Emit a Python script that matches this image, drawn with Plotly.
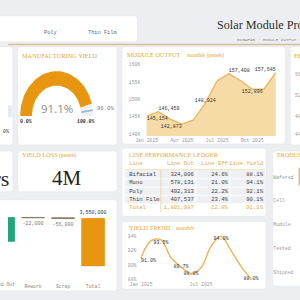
import numpy as np
import plotly.graph_objects as go

W = H = 300
def X(p): return p / W
def Y(p): return 1 - p / H

SERIF = "Liberation Serif"
MONO = "Liberation Mono"
SANS = "Open Sans"
BG = "#eceef1"
GOLD = "#e3a83a"
GOLD_L = "#ecc070"
DARK = "#2e2e2e"

# ---------------- data ----------------
tabs = ["Poly", "Thin Film"]
months = ["Jan 2025", "Feb 2025", "Mar 2025", "Apr 2025", "May 2025", "Jun 2025",
          "Jul 2025", "Aug 2025", "Sep 2025", "Oct 2025", "Nov 2025", "Dec 2025"]
module_output = [145154, 146459, 144300, 142873, 144100, 148924,
                 155300, 157408, 155400, 152896, 152900, 157645]
output_label_pos = ["bottom right", "top right", "", "bottom left", "", "top center",
                    "", "top right", "", "bottom center", "", "top left"]
output_ticks = [140000, 145000, 150000, 155000, 160000]
output_ticktext = ["140K", "145K", "150K", "155K", "160K"]

yield_trend = [91.0, 93.4, 93.5, 91.0, 89.7, 88.8, 89.6, 92.6, 94.0, 92.0, 89.8, 88.0]
trend_label_pos = ["bottom right", "", "bottom center", "", "middle center", "middle center",
                   "", "", "bottom center", "", "", "middle center"]
trend_ticks = [88, 90, 92, 94]

manufacturing_yield = 91.1
yield_target = 96.0

yield_loss_text = "4M"

lines = ["Bifacial", "Mono", "Poly", "Thin Film", "Total"]
line_out = [324006, 578131, 492313, 407537, 1801987]
line_eff = [24.6, 21.0, 22.2, 23.4, 22.8]
line_yield = [88.1, 94.1, 92.1, 90.1, 91.1]
table_headers = ["Line", "Line Out", "Line Eff", "Line Yield"]

wf_steps = ["Gross In", "Good Out", "Rework", "Scrap", "Total"]
wf_values = [1850000, 1778000, -22000, -56000, None]   # None = running total
wf_text = ["+1,850,000", "+1,778,000", "-22,000", "-56,000", "3,550,000"]

funnel_stages = ["Wafered", "Cell", "Module", "Tested", "Shipped"]
funnel_values = [2050000, 1980000, 1900000, 1850000, 1801987]

ef_ticks = ["56K", "52K", "48K", "44K"]

# ---------------- figure ----------------
fig = go.Figure()
shapes = []
annos = []

def card(x0, y0, x1, y1, r=3):
    a, b, c, d = X(x0), Y(y0), X(x1), Y(y1)
    rr = r / W
    path = (f"M {a+rr},{b} L {c-rr},{b} Q {c},{b} {c},{b-rr} L {c},{d+rr} Q {c},{d} {c-rr},{d} "
            f"L {a+rr},{d} Q {a},{d} {a},{d+rr} L {a},{b-rr} Q {a},{b} {a+rr},{b} Z")
    shapes.append(dict(type="path", xref="paper", yref="paper", path=path,
                       fillcolor="white", line=dict(color="#e2e5e9", width=0.6), layer="below"))

def txt(x, y, s, size, color, family=MONO, xanchor="left", yanchor="middle"):
    annos.append(dict(x=X(x), y=Y(y), xref="paper", yref="paper", text=s, showarrow=False,
                      xanchor=xanchor, yanchor=yanchor,
                      font=dict(family=family, size=size, color=color)))

# cards
card(-20, 16, 133, 42)
card(-20, 47, 5, 146)
card(10, 47, 112, 146)
card(117, 47, 285, 145)
card(290, 47, 320, 146)
card(-20, 152, 5, 193)
card(10, 152, 112, 193)
card(-20, 201, 112, 293)
card(117, 149, 265, 218)
card(117, 223, 265, 291)
card(272, 152, 320, 288)

# header rule
shapes.append(dict(type="line", xref="paper", yref="paper", x0=0, x1=1, y0=Y(44.8), y1=Y(44.8),
                   line=dict(color="#d6bf98", width=1.6)))

# header text
txt(44, 33, tabs[0], 5.3, "#666", xanchor="center")
txt(97, 33, tabs[1], 5.3, "#666", xanchor="center")
txt(212.5, 25.5, "Solar Module Production Dashboard", 12.2, DARK, SERIF)
txt(233, 40, "GIGAFAB · MODULE OUTPUT · FY2025", 4.3, "#8a8a8a")

# card titles
txt(12.5, 56, "MANUFACTURING YIELD", 6.3, GOLD, SERIF)
txt(120, 55, "MODULE OUTPUT", 6.3, GOLD, SERIF)
txt(182, 55.5, "<b>monthly (panels)</b>", 5.2, GOLD_L, SERIF)
txt(292, 56, "EFFICIENCY", 6.3, GOLD, SERIF)
txt(12.5, 156, "YIELD LOSS", 6.3, GOLD, SERIF)
txt(50.5, 156.3, "<b>(panels)</b>", 5.2, GOLD_L, SERIF)
txt(122, 156, "LINE PERFORMANCE LEDGER", 6.3, GOLD, SERIF)
txt(122, 229, "YIELD TREND", 6.3, GOLD, SERIF)
txt(171, 229.5, "<b>monthly</b>", 5.2, GOLD_L, SERIF)
txt(274, 156, "PRODUCTION FUNNEL", 6.3, GOLD, SERIF)

# EF partial tick labels
for i, t in enumerate(ef_ticks):
    txt(293, [75, 96, 117, 135][i], t, 4.8, "#999")

# left partial cards
shapes.append(dict(type="rect", xref="paper", yref="paper", x0=X(0), x1=X(4), y0=Y(118), y1=Y(106),
                   fillcolor="#e6e9ed", line=dict(width=0), layer="above"))
txt(3.5, 132, "0%", 4.8, DARK, MONO, xanchor="right")
txt(3.2, 180, "12 hrs", 22, DARK, SERIF, xanchor="right")

# yield loss big number
txt(61, 179, yield_loss_text, 21, "#222", SERIF, xanchor="center")

HID = dict(showgrid=False, zeroline=False, showline=False, showticklabels=False, ticks="",
           fixedrange=True, autorange=False)

# ---------------- gauge (manufacturing yield) ----------------
def arc(v0, v1, r_in=0.68, n=60):
    t = np.linspace(np.pi * (1 - v0 / 100), np.pi * (1 - v1 / 100), n)
    xs = np.concatenate([np.cos(t), r_in * np.cos(t[::-1])])
    ys = np.concatenate([np.sin(t), r_in * np.sin(t[::-1])])
    return np.append(xs, xs[0]), np.append(ys, ys[0])

gx, gy = arc(0, 100)
fig.add_trace(go.Scatter(x=gx, y=gy, fill="toself", fillcolor="#eef0f3", line=dict(width=0),
                         mode="lines", hoverinfo="skip", xaxis="x2", yaxis="y2", showlegend=False))
gx, gy = arc(0, manufacturing_yield)
fig.add_trace(go.Scatter(x=gx, y=gy, fill="toself", fillcolor="#e8960f", line=dict(width=0),
                         mode="lines", hoverinfo="skip", xaxis="x2", yaxis="y2", showlegend=False))
tt = np.pi * (1 - yield_target / 100)
fig.add_trace(go.Scatter(x=[0.68 * np.cos(tt), np.cos(tt)], y=[0.68 * np.sin(tt), np.sin(tt)],
                         mode="lines", line=dict(color="#9bb7d6", width=1.6), hoverinfo="skip",
                         xaxis="x2", yaxis="y2", showlegend=False))
fig.update_layout(
    xaxis2=dict(domain=[X(10), X(112)], range=[(10 - 50) / 37.5, (112 - 50) / 37.5], anchor="y2", **HID),
    yaxis2=dict(domain=[Y(146), Y(47)], range=[-(146 - 116.7) / 45, (116.7 - 47) / 45], anchor="x2", **HID),
)
txt(50, 109, f"{manufacturing_yield:.1f}%", 11.5, "#8d8d8d", SANS, xanchor="center")
txt(18.5, 122.5, "<b>0.0%</b>", 4.8, DARK, MONO, xanchor="center")
txt(79.5, 122.5, "<b>100.0%</b>", 4.8, DARK, MONO, xanchor="center")
txt(89, 109.5, f"{yield_target:.1f}%", 5.6, "#777", MONO)

# ---------------- module output area ----------------
idx = list(range(len(months)))
ppm = 12.045
fig.add_trace(go.Scatter(
    x=idx, y=module_output, mode="lines+text", fill="tozeroy", fillcolor="#f7dba6",
    line=dict(color="#edb65c", width=1.3),
    text=[f"{v:,}" if p else "" for v, p in zip(module_output, output_label_pos)],
    textposition=[p if p else "top center" for p in output_label_pos],
    textfont=dict(family=MONO, size=5, color="#333"),
    hoverinfo="skip", showlegend=False, xaxis="x", yaxis="y", cliponaxis=False))
fig.update_layout(
    xaxis=dict(domain=[X(137), X(280)], range=[(137 - 142.5) / ppm, 11 + (280 - 275) / ppm],
               autorange=False, tickvals=[0, 3, 6, 9], ticktext=[months[i] for i in [0, 3, 6, 9]],
               showgrid=False, zeroline=False, showline=False, ticks="",
               tickfont=dict(family=MONO, size=4.8, color="#999"), fixedrange=True, anchor="y"),
    yaxis=dict(domain=[Y(137), Y(60)], autorange=False,
               range=[140000 - 2 / 3.5 * 1000, 160000 + 5 / 3.5 * 1000],
               tickvals=output_ticks, ticktext=output_ticktext, showgrid=False, zeroline=False,
               ticks="", tickfont=dict(family=MONO, size=4.8, color="#999"), fixedrange=True,
               anchor="x"),
)

# ---------------- yield trend ----------------
ppt = 10.27
fig.add_trace(go.Scatter(
    x=idx, y=yield_trend, mode="lines+text", line=dict(color="#ebb552", width=1.4, shape="spline"),
    text=[f"{v:.1f}%" if p else "" for v, p in zip(yield_trend, trend_label_pos)],
    textposition=[p if p else "top center" for p in trend_label_pos],
    textfont=dict(family=MONO, size=5, color="#333"),
    hoverinfo="skip", showlegend=False, xaxis="x4", yaxis="y4", cliponaxis=False))
fig.update_layout(
    xaxis4=dict(domain=[X(133), X(262)], range=[(133 - 136.7) / ppt, 11 + (262 - 249.7) / ppt],
                autorange=False, tickvals=[0, 6], ticktext=[months[0], months[6]], showgrid=False,
                zeroline=False, ticks="", tickfont=dict(family=MONO, size=4.8, color="#999"),
                fixedrange=True, anchor="y4"),
    yaxis4=dict(domain=[Y(282), Y(232)], range=[88 - 1 / 7.17, 94 + 6 / 7.17], autorange=False,
                tickvals=trend_ticks, ticktext=[f"{t}%" for t in trend_ticks], showgrid=False,
                zeroline=False, ticks="", tickfont=dict(family=MONO, size=4.8, color="#999"),
                fixedrange=True, anchor="x4"),
)

# ---------------- waterfall (bars on running bases, numeric step axis) ----------------
bases, heights, colors = [], [], []
run = 0
peak = 0
for v in wf_values:
    if v is None:
        bases.append(0); heights.append(run); colors.append("#e8960f")
    else:
        bases.append(run); heights.append(v); colors.append("#22a57b" if v >= 0 else "#8e6f55")
        run += v
    peak = max(peak, run)
wf_idx = list(range(len(wf_steps)))
fig.add_trace(go.Bar(
    x=wf_idx, y=heights, base=bases, text=wf_text, textposition="outside", constraintext="none",
    cliponaxis=False, width=0.76,
    textfont=dict(family=MONO, size=5, color=["#444", "#444", "#777", "#777", "#333"]),
    marker=dict(color=colors, line=dict(color=colors, width=0.8)),
    hoverinfo="skip", showlegend=False, xaxis="x7", yaxis="y7"))
step = 30.8                # px per step; "Good Out" centred at x = -5 px
wf_top = peak * 1.05
wf_pxm = 48 / run          # zero at y=268 px, total at y=220 px
fig.update_layout(
    xaxis7=dict(domain=[0, X(108)], range=[1 + 5 / step, 1 + 113 / step], autorange=False,
                type="linear", tickvals=wf_idx[2:], ticktext=wf_steps[2:],
                showgrid=False, zeroline=False, showline=False, ticks="", ticklabelstandoff=16,
                tickfont=dict(family=MONO, size=4.8, color="#888"), fixedrange=True, anchor="y7"),
    yaxis7=dict(domain=[Y(268), Y(268 - wf_top * wf_pxm)], range=[0, wf_top], type="linear",
                anchor="x7", **HID),
)
txt(-5, 286, wf_steps[1], 4.8, "#888", MONO, xanchor="center")

# ---------------- ledger table (text cells on a row/column axis) ----------------
row_h = 8.3
r0 = 175.9
t_top, t_bot = 160, 214
fig.update_layout(
    xaxis6=dict(domain=[X(117), X(265)], range=[117, 265], anchor="y6", **HID),
    yaxis6=dict(domain=[Y(t_bot), Y(t_top)], range=[(t_bot - r0) / row_h, (t_top - r0) / row_h],
                anchor="x6", **HID),
)
col_anchor = [124.5, 191, 226, 262]
col_pos = ["middle right", "middle left", "middle left", "middle left"]
col_vals = [lines, [f"{v:,}" for v in line_out], [f"{v:.1f}%" for v in line_eff],
            [f"{v:.1f}%" for v in line_yield]]
rows_idx = list(range(len(lines)))
row_colors = ["#444"] * (len(lines) - 1) + [GOLD]
header_row = (165 - r0) / row_h
for c in range(4):
    fig.add_trace(go.Scatter(
        x=[col_anchor[c]] * (len(lines) + 1), y=[header_row] + rows_idx,
        text=[table_headers[c]] + col_vals[c], mode="text", textposition=col_pos[c],
        textfont=dict(family=MONO, size=5.6, color=[GOLD] + row_colors),
        hoverinfo="skip", showlegend=False, xaxis="x6", yaxis="y6", cliponaxis=False))
n_data = len(lines) - 1
shapes.append(dict(type="rect", xref="x6", yref="y6", x0=120, x1=264, y0=-0.5, y1=n_data - 0.5,
                   fillcolor="#eef0f3", line=dict(width=0), layer="below"))
for k in range(1, n_data):
    shapes.append(dict(type="line", xref="x6", yref="y6", x0=120, x1=264, y0=k - 0.5, y1=k - 0.5,
                       line=dict(color="white", width=0.9)))
for xc in [193, 228]:
    shapes.append(dict(type="line", xref="x6", yref="y6", x0=xc, x1=xc, y0=-0.5, y1=n_data - 0.5,
                       line=dict(color="white", width=0.9)))
shapes.append(dict(type="line", xref="x6", yref="y6", x0=157, x1=157, y0=-0.6, y1=len(lines) - 0.4,
                   line=dict(color="#ead3a6", width=0.8)))
shapes.append(dict(type="line", xref="x6", yref="y6", x0=120, x1=264, y0=-0.6, y1=-0.6,
                   line=dict(color="#ead3a6", width=0.8)))

# ---------------- production funnel (partially visible) ----------------
vmax = max(funnel_values)
fx0 = 269.5
fig.add_trace(go.Bar(
    y=funnel_stages, x=funnel_values, base=[(vmax - v) / 2 for v in funnel_values],
    orientation="h", marker=dict(color="#edb847"), width=0.75,
    hoverinfo="skip", showlegend=False, xaxis="x5", yaxis="y5"))
fig.update_layout(
    xaxis5=dict(domain=[X(fx0), 1], range=[-(298.5 - fx0) * 10000, (300 - 298.5) * 10000],
                anchor="y5", **HID),
    yaxis5=dict(domain=[Y(286), Y(166)], range=[4.5, -0.5], autorange=False,
                ticklabelposition="inside", showgrid=False, zeroline=False, ticks="",
                tickfont=dict(family=MONO, size=4.8, color="#999"), fixedrange=True, anchor="x5"),
)

fig.update_layout(
    width=W, height=H, margin=dict(l=0, r=0, t=0, b=0),
    paper_bgcolor=BG, plot_bgcolor="rgba(0,0,0,0)",
    shapes=shapes, annotations=annos, showlegend=False,
)
fig.write_html("out.html", config={"displayModeBar": False})
